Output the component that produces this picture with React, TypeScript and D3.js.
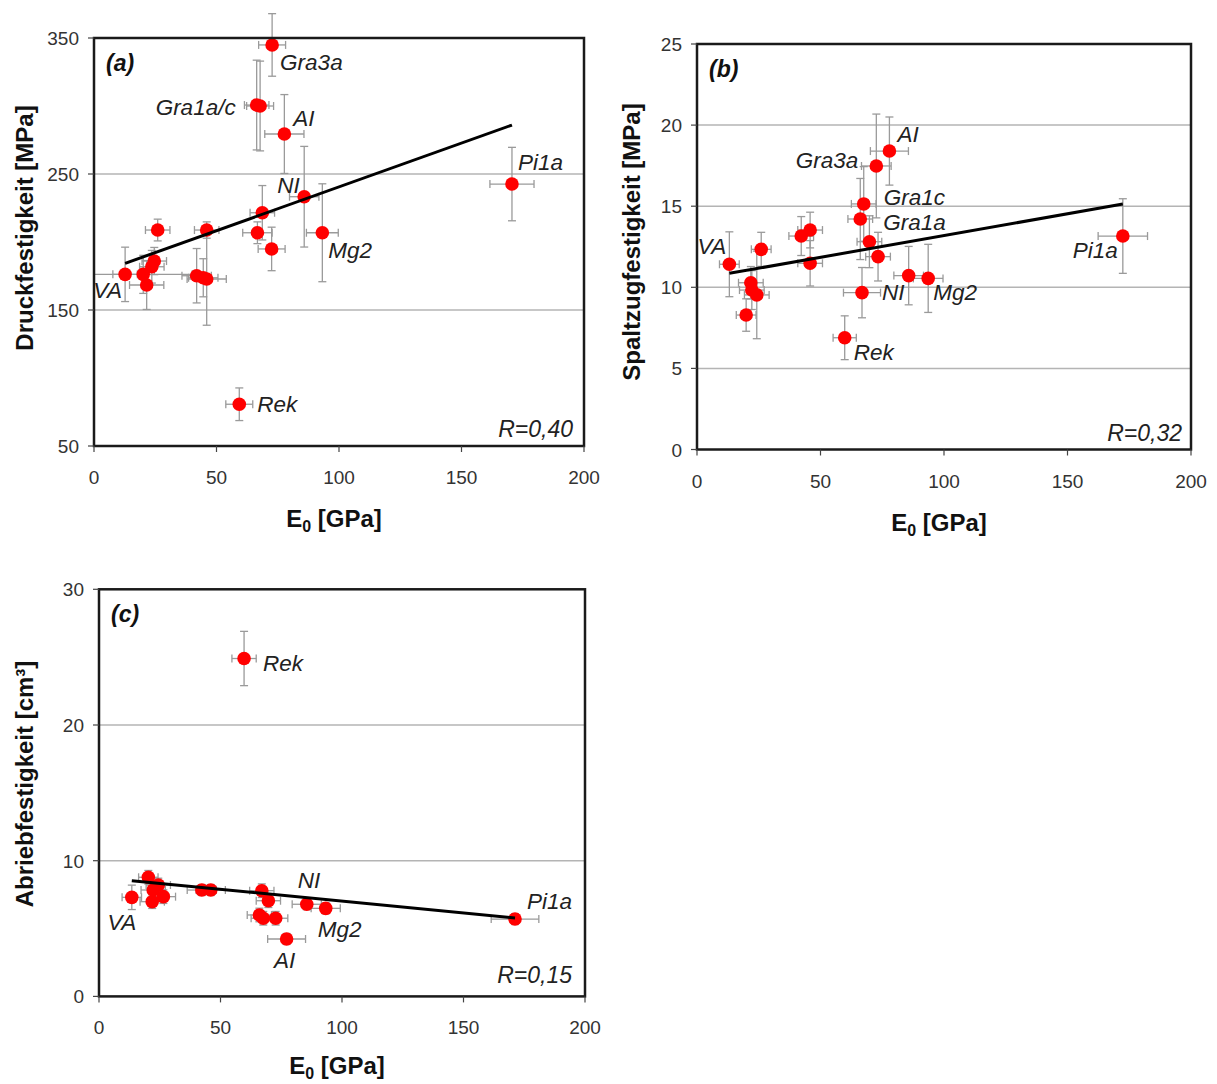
import React from "react";
import * as d3 from "d3";

const FONT = '"Liberation Sans", Arial, Helvetica, sans-serif';

const E0_TICKS = [0, 50, 100, 150, 200];

// ---------- (a) Druckfestigkeit ----------
const A_E0 = [12.7, 20.1, 21.5, 23.6, 24.6, 26.0, 41.9, 44.6, 46.0, 46.0, 59.3, 66.4, 67.8, 66.7, 68.7, 72.5, 72.7, 77.7, 85.8, 93.2, 170.6];
const A_VAL = [176.2, 176.2, 168.4, 181.8, 186.0, 208.8, 175.2, 173.7, 172.8, 208.8, 80.7, 300.7, 300.0, 206.8, 221.5, 194.9, 344.9, 279.4, 233.3, 206.8, 242.6];
const A_XERR = [5, 20, 7, 5, 5, 5, 6, 6, 8, 5, 5.5, 5, 5.5, 6, 5, 5.5, 5.5, 8, 6, 6.5, 9];
const A_YERR = [20, 14, 18, 12, 10, 8, 20, 14, 34, 6, 12, 33, 33, 8, 20, 16, 23, 29, 37, 36, 27];
const A_TICKS = [50, 150, 250, 350];
const A_GRID = [150, 250];
const A_TREND_E0 = [12.7, 170.6];
const A_TREND_VAL = [184.3, 286.0];
const A_LABELS = ["VA", "Rek", "Gra1a/c", "Gra3a", "AI", "NI", "Mg2", "Pi1a"];
const A_LABEL_POINT = [0, 10, 11, 16, 17, 18, 19, 20];

// ---------- (b) Spaltzugfestigkeit ----------
const B_E0 = [13.1, 19.9, 21.8, 22.2, 24.2, 26.0, 42.2, 45.8, 45.8, 59.8, 66.1, 66.8, 67.5, 69.8, 72.6, 73.3, 77.9, 85.7, 93.6, 172.4];
const B_VAL = [11.42, 8.29, 10.28, 9.83, 9.53, 12.34, 13.16, 13.53, 11.48, 6.89, 14.21, 9.67, 15.14, 12.81, 17.48, 11.89, 18.4, 10.72, 10.55, 13.16];
const B_XERR = [4, 4, 5, 5, 5, 4, 5, 5, 5, 4.7, 5, 7.5, 5, 5, 6, 5, 7.7, 6, 6, 10];
const B_YERR = [2.0, 1.0, 1.0, 1.2, 2.7, 1.05, 1.2, 1.1, 1.4, 1.35, 2.5, 1.55, 2.3, 1.6, 3.2, 1.5, 2.1, 1.8, 2.1, 2.3];
const B_TICKS = [0, 5, 10, 15, 20, 25];
const B_GRID = [5, 10, 15, 20];
const B_TREND_E0 = [13.1, 172.4];
const B_TREND_VAL = [10.86, 15.13];
const B_LABELS = ["VA", "Rek", "Gra1a", "NI", "Gra1c", "Gra3a", "AI", "Mg2", "Pi1a"];
const B_LABEL_POINT = [0, 9, 10, 11, 12, 14, 16, 18, 19];

// ---------- (c) Abriebfestigkeit ----------
const C_E0 = [13.5, 20.3, 21.9, 22.3, 24.4, 26.5, 42.3, 46.0, 59.7, 66.0, 67.0, 67.6, 69.7, 72.7, 77.2, 85.5, 93.3, 171.2];
const C_VAL = [7.3, 8.78, 6.98, 7.84, 8.21, 7.35, 7.84, 7.84, 24.9, 6.0, 7.79, 5.76, 7.05, 5.76, 4.23, 6.79, 6.49, 5.7];
const C_XERR = [4, 4, 5, 5, 5, 5, 6, 6, 5, 5, 5, 5, 5, 5, 7.8, 6, 6, 9.8];
const C_YERR = [0.9, 0.5, 0.5, 0.5, 0.5, 0.5, 0.4, 0.4, 2.0, 0.5, 0.5, 0.5, 0.5, 0.5, 0.4, 0.4, 0.4, 0.4];
const C_TICKS = [0, 10, 20, 30];
const C_GRID = [10, 20];
const C_TREND_E0 = [13.5, 171.2];
const C_TREND_VAL = [8.53, 5.78];
const C_LABELS = ["VA", "Rek", "AI", "NI", "Mg2", "Pi1a"];
const C_LABEL_POINT = [0, 8, 14, 15, 16, 17];

type LabelPos = { dx: number; dy: number; anchor?: string };

type PanelProps = {
  x0: number; x1: number; yTop: number; yBot: number;
  yDomain: [number, number];
  e0: number[]; val: number[]; xErr: number[]; yErr: number[];
  yTicks: number[]; grid: number[];
  trendE0: number[]; trendVal: number[];
  labels: string[]; labelPoint: number[]; labelPos: LabelPos[];
  tag: string; r: string; rPos: { dx: number; dy: number };
  yTitle: React.ReactNode; yTitleX: number; yTitleY: number;
  xTitleDy: number;
};

function Panel(p: PanelProps) {
  const x = d3.scaleLinear().domain([0, 200]).range([p.x0, p.x1]);
  const y = d3.scaleLinear().domain(p.yDomain).range([p.yBot, p.yTop]);
  const line = d3.line<[number, number]>().x((d) => x(d[0])).y((d) => y(d[1]));
  const trend: [number, number][] = p.trendE0.map((e, i) => [e, p.trendVal[i]]);
  const errColor = "#9a9a9a";
  const cap = 4;
  const xTitleX = (p.x0 + p.x1) / 2 - 5;
  return (
    <g>
      {p.grid.map((g) => (
        <line key={"g" + g} x1={p.x0} x2={p.x1} y1={y(g)} y2={y(g)} stroke="#b4b4b4" strokeWidth={1.5} />
      ))}
      {p.e0.map((e, i) => {
        const cx = x(e), cy = y(p.val[i]);
        const xl = x(Math.max(0, e - p.xErr[i])), xr = x(e + p.xErr[i]);
        const yt = y(p.val[i] + p.yErr[i]), yb = y(p.val[i] - p.yErr[i]);
        return (
          <g key={"e" + i} stroke={errColor} strokeWidth={1.3}>
            <line x1={xl} x2={xr} y1={cy} y2={cy} />
            {e - p.xErr[i] > 0 && <line x1={xl} x2={xl} y1={cy - cap} y2={cy + cap} />}
            <line x1={xr} x2={xr} y1={cy - cap} y2={cy + cap} />
            <line x1={cx} x2={cx} y1={yt} y2={yb} />
            <line x1={cx - cap} x2={cx + cap} y1={yt} y2={yt} />
            <line x1={cx - cap} x2={cx + cap} y1={yb} y2={yb} />
          </g>
        );
      })}
      {p.e0.map((e, i) => (
        <circle key={"p" + i} cx={x(e)} cy={y(p.val[i])} r={6.8} fill="#ff0000" />
      ))}
      <path d={line(trend) || ""} stroke="#000" strokeWidth={3} fill="none" />
      {p.labels.map((t, i) => {
        const k = p.labelPoint[i];
        const pos = p.labelPos[i];
        return (
          <text key={"l" + i} x={x(p.e0[k]) + pos.dx} y={y(p.val[k]) + pos.dy}
            textAnchor={pos.anchor || "start"} fontStyle="italic" fontSize={22.5} fill="#222" fontFamily={FONT}>
            {t}
          </text>
        );
      })}
      <rect x={p.x0} y={p.yTop} width={p.x1 - p.x0} height={p.yBot - p.yTop} fill="none" stroke="#1a1a1a" strokeWidth={2.5} />
      {p.yTicks.map((t) => (
        <g key={"yt" + t}>
          <line x1={p.x0 - 6} x2={p.x0} y1={y(t)} y2={y(t)} stroke="#444" strokeWidth={1.2} />
          <text x={p.x0 - 15} y={y(t) + 7} textAnchor="end" fontSize={19} fill="#333" fontFamily={FONT}>{t}</text>
        </g>
      ))}
      {E0_TICKS.map((t) => (
        <g key={"xt" + t}>
          <line x1={x(t)} x2={x(t)} y1={p.yBot} y2={p.yBot + 6} stroke="#444" strokeWidth={1.2} />
          <text x={x(t)} y={p.yBot + 38} textAnchor="middle" fontSize={19} fill="#333" fontFamily={FONT}>{t}</text>
        </g>
      ))}
      <text x={p.x0 + 12} y={p.yTop + 33} fontSize={23} fontWeight="bold" fontStyle="italic" fill="#111" fontFamily={FONT}>{p.tag}</text>
      <text x={p.x1 + p.rPos.dx} y={p.yBot + p.rPos.dy} textAnchor="end" fontSize={23} fontStyle="italic" fill="#222" fontFamily={FONT}>{p.r}</text>
      <text x={xTitleX} y={p.yBot + p.xTitleDy} textAnchor="middle" fontSize={24} fontWeight="bold" fill="#111" fontFamily={FONT}>
        E<tspan fontSize={16} dy={5}>0</tspan><tspan dy={-5}> [GPa]</tspan>
      </text>
      <text transform={`translate(${p.yTitleX},${p.yTitleY}) rotate(-90)`} textAnchor="middle" fontSize={24}
        fontWeight="bold" fill="#111" fontFamily={FONT}>
        {p.yTitle}
      </text>
    </g>
  );
}

export default function App() {
  return (
    <div style={{ position: "absolute", left: 0, top: 0, width: 1217, height: 1084, background: "#fff" }}>
      <svg width={1217} height={1084} style={{ display: "block" }}>
        <rect width={1217} height={1084} fill="#fff" />
        <Panel
          x0={94} x1={584} yTop={38} yBot={446} yDomain={[50, 350]}
          e0={A_E0} val={A_VAL} xErr={A_XERR} yErr={A_YERR}
          yTicks={A_TICKS} grid={A_GRID} trendE0={A_TREND_E0} trendVal={A_TREND_VAL}
          labels={A_LABELS} labelPoint={A_LABEL_POINT}
          labelPos={[
            { dx: -3, dy: 24, anchor: "end" },
            { dx: 18, dy: 8 },
            { dx: -21, dy: 10, anchor: "end" },
            { dx: 8, dy: 25 },
            { dx: 9, dy: -8 },
            { dx: -27, dy: -4 },
            { dx: 6, dy: 25 },
            { dx: 6, dy: -14 },
          ]}
          tag="(a)" r="R=0,40" rPos={{ dx: -11, dy: -9 }}
          yTitle="Druckfestigkeit [MPa]" yTitleX={33} yTitleY={228} xTitleDy={81}
        />
        <Panel
          x0={697} x1={1191} yTop={44} yBot={449.5} yDomain={[0, 25]}
          e0={B_E0} val={B_VAL} xErr={B_XERR} yErr={B_YERR}
          yTicks={B_TICKS} grid={B_GRID} trendE0={B_TREND_E0} trendVal={B_TREND_VAL}
          labels={B_LABELS} labelPoint={B_LABEL_POINT}
          labelPos={[
            { dx: -3, dy: -10, anchor: "end" },
            { dx: 9, dy: 22 },
            { dx: 23, dy: 11 },
            { dx: 20, dy: 7 },
            { dx: 20, dy: 1 },
            { dx: -18, dy: 2, anchor: "end" },
            { dx: 8, dy: -9 },
            { dx: 5, dy: 22 },
            { dx: -5, dy: 22, anchor: "end" },
          ]}
          tag="(b)" r="R=0,32" rPos={{ dx: -9, dy: -9 }}
          yTitle="Spaltzugfestigkeit [MPa]" yTitleX={640} yTitleY={242} xTitleDy={81}
        />
        <Panel
          x0={99} x1={585} yTop={589.3} yBot={996.4} yDomain={[0, 30]}
          e0={C_E0} val={C_VAL} xErr={C_XERR} yErr={C_YERR}
          yTicks={C_TICKS} grid={C_GRID} trendE0={C_TREND_E0} trendVal={C_TREND_VAL}
          labels={C_LABELS} labelPoint={C_LABEL_POINT}
          labelPos={[
            { dx: -10, dy: 33, anchor: "middle" },
            { dx: 19, dy: 12 },
            { dx: -2, dy: 29, anchor: "middle" },
            { dx: -9, dy: -16 },
            { dx: -8, dy: 29 },
            { dx: 12, dy: -10 },
          ]}
          tag="(c)" r="R=0,15" rPos={{ dx: -13, dy: -13 }}
          yTitle="Abriebfestigkeit [cm³]" yTitleX={33} yTitleY={784} xTitleDy={78}
        />
      </svg>
    </div>
  );
}
